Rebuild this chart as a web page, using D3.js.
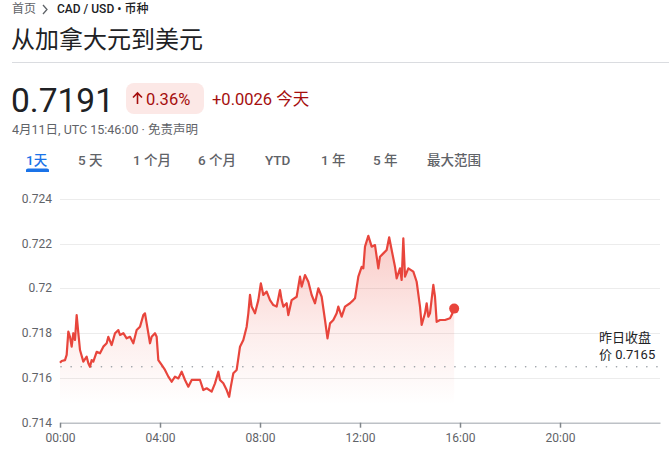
<!DOCTYPE html>
<html><head><meta charset="utf-8">
<script src="https://cdn.jsdelivr.net/npm/d3@7"></script>
<style>
html,body{margin:0;padding:0;background:#fff;}
body{width:669px;height:457px;overflow:hidden;font-family:Roboto,"Noto Sans CJK SC",sans-serif;}
</style></head><body>
<svg id="c" width="669" height="457"></svg>
<script>
// ---- data ----
const title = "从加拿大元到美元";
const pair = "CAD / USD • 币种";
const lastPrice = "0.7191";
const pctChange = "0.36%";
const absChange = "+0.0026 今天";
const stamp = "4月11日, UTC 15:46:00 · 免责声明";
const tabs = ["1天","5 天","1 个月","6 个月","YTD","1 年","5 年","最大范围"];
const prevClose = 0.7165;
const yTicks = [0.714,0.716,0.718,0.72,0.722,0.724];
const xTickHours = [0,4,8,12,16,20];
// minutes after 00:00 UTC
const minutes = [0,4,12,16,20,24,28,32,36,40,44,48,56,64,68,72,76,80,88,96,104,112,116,124,132,140,144,152,160,168,176,184,192,200,204,208,216,220,228,232,236,244,252,260,268,276,284,292,300,308,316,328,336,344,352,364,372,380,384,392,400,406,410,416,424,432,440,448,452,456,460,468,476,482,488,496,504,512,520,528,532,536,544,548,556,568,576,580,588,596,604,612,620,628,636,642,648,656,664,668,676,684,696,704,708,716,724,728,732,740,748,756,764,768,776,784,790,796,804,808,816,820,824,828,836,848,856,864,868,876,880,884,888,896,900,904,912,924,936,940,946];
const rates = [0.71668,0.71676,0.71680,0.71703,0.71807,0.71784,0.71740,0.71800,0.71770,0.71881,0.71800,0.71725,0.71673,0.71695,0.71666,0.71650,0.71680,0.71673,0.71717,0.71710,0.71740,0.71755,0.71784,0.71747,0.71800,0.71814,0.71792,0.71800,0.71777,0.71784,0.71755,0.71814,0.71829,0.71881,0.71889,0.71844,0.71755,0.71784,0.71800,0.71784,0.71680,0.71658,0.71636,0.71606,0.71583,0.71606,0.71598,0.71628,0.71591,0.71561,0.71591,0.71591,0.71591,0.71546,0.71554,0.71539,0.71576,0.71628,0.71591,0.71576,0.71546,0.71516,0.71561,0.71621,0.71636,0.71740,0.71770,0.71829,0.71889,0.71971,0.71919,0.71889,0.71948,0.72023,0.71971,0.71986,0.71948,0.71926,0.71919,0.71993,0.71948,0.71919,0.71934,0.71881,0.71948,0.71963,0.72053,0.72008,0.72060,0.72030,0.71971,0.71934,0.72001,0.71963,0.71859,0.71777,0.71844,0.71859,0.71889,0.71919,0.71874,0.71919,0.71934,0.71948,0.71956,0.72053,0.72097,0.72090,0.72187,0.72235,0.72187,0.72194,0.72090,0.72142,0.72157,0.72172,0.72229,0.72172,0.72097,0.72045,0.72090,0.72038,0.72224,0.72053,0.72090,0.72075,0.72030,0.71919,0.71837,0.71889,0.71934,0.71874,0.71889,0.72016,0.71963,0.71851,0.71859,0.71859,0.71867,0.71881,0.7191];

// ---- drawing ----
const svg = d3.select("#c");
const FONT = 'Roboto,"Noto Sans CJK SC",sans-serif';
const day0 = new Date(Date.UTC(2024,3,11,0,0));
const toDate = m => new Date(day0.getTime() + m*60000);
const data = minutes.map((m,i)=>({t:toDate(m), v:rates[i]}));

const x = d3.scaleUtc().domain([day0, toDate(1440)]).range([60,660]);
const y = d3.scaleLinear().domain([0.714,0.724]).range([422.7,199]);

// header
const hdr = svg.append("g").style("font-family",FONT);
hdr.append("text").attr("x",12).attr("y",13).attr("font-size",12).attr("fill","#5f6368").text("首页");
hdr.append("path").attr("d","M43,5 L47,9.5 L43,14").attr("fill","none").attr("stroke","#5f6368").attr("stroke-width",1.3);
hdr.append("text").attr("x",57).attr("y",13).attr("font-size",12).attr("font-weight",500).attr("fill","#202124").text(pair);
hdr.append("text").attr("x",11).attr("y",48).attr("font-size",24).attr("fill","#202124").text(title);
hdr.append("line").attr("x1",12).attr("x2",669).attr("y1",62.5).attr("y2",62.5).attr("stroke","#dadce0");
hdr.append("text").attr("x",11).attr("y",112).attr("font-size",33.5).attr("fill","#202124").text(lastPrice);
hdr.append("rect").attr("x",126).attr("y",83).attr("width",78).attr("height",31).attr("rx",8).attr("fill","#fce8e6");
hdr.append("path").attr("d","M137.5,104 V93 M133,97.5 L137.5,93 L142,97.5").attr("fill","none").attr("stroke","#a50e0e").attr("stroke-width",1.6);
hdr.append("text").attr("x",146).attr("y",105).attr("font-size",16.5).attr("fill","#a50e0e").text(pctChange);
hdr.append("text").attr("x",212).attr("y",105).attr("font-size",16.5).attr("fill","#a50e0e").text(absChange);
hdr.append("text").attr("x",12).attr("y",134).attr("font-size",12.5).attr("fill","#5f6368").text(stamp);

// tabs
const tabX = [26,78,133,198,265,321,373,427];
tabs.forEach((t,i)=>{
  hdr.append("text").attr("x",tabX[i]).attr("y",165).attr("font-size",13.5).attr("font-weight",500)
    .attr("fill", i===0 ? "#1a73e8" : "#5f6368").text(t);
});
hdr.append("path").attr("d","M26,172 V170 Q26,168.5 28,168.5 H47 Q49,168.5 49,170 V172 Z").attr("fill","#1a73e8");

// grid
const g = svg.append("g").style("font-family",FONT);
g.selectAll("line.grid").data(yTicks.slice(1)).enter().append("line")
  .attr("x1",60).attr("x2",660).attr("y1",d=>Math.round(y(d))+0.5).attr("y2",d=>Math.round(y(d))+0.5)
  .attr("stroke","#ececec");
g.selectAll("text.yl").data(yTicks).enter().append("text")
  .attr("x",52).attr("y",d=>y(d)+4).attr("text-anchor","end").attr("font-size",12).attr("fill","#5f6368")
  .text(d=>String(+d.toFixed(3)));

// gradient
const defs = svg.append("defs");
const grad = defs.append("linearGradient").attr("id","fillg").attr("gradientUnits","userSpaceOnUse")
  .attr("x1",0).attr("x2",0).attr("y1",y(0.7224)).attr("y2",y(0.7148));
grad.append("stop").attr("offset",0).attr("stop-color","#ea4335").attr("stop-opacity",0.28);
grad.append("stop").attr("offset",0.55).attr("stop-color","#ea4335").attr("stop-opacity",0.10);
grad.append("stop").attr("offset",1).attr("stop-color","#ea4335").attr("stop-opacity",0.0);

const area = d3.area().x(d=>x(d.t)).y0(y(0.714)).y1(d=>y(d.v));
g.append("path").datum(data).attr("d",area).attr("fill","url(#fillg)");

// prev close dotted
g.append("line").attr("x1",61).attr("x2",660).attr("y1",y(prevClose)).attr("y2",y(prevClose))
  .attr("stroke","#9aa0a6").attr("stroke-width",1.6).attr("stroke-linecap","round").attr("stroke-dasharray","0.1,10");

// line
const line = d3.line().x(d=>x(d.t)).y(d=>y(d.v));
g.append("path").datum(data).attr("d",line).attr("fill","none").attr("stroke","#e8453c")
  .attr("stroke-width",2.2).attr("stroke-linejoin","round");
const last = data[data.length-1];
g.append("circle").attr("cx",x(last.t)).attr("cy",y(last.v)).attr("r",5).attr("fill","#e8453c");

// x axis
const xAxis = d3.axisBottom(x).tickValues(xTickHours.map(h=>toDate(h*60)))
  .tickFormat(d3.utcFormat("%H:%M")).tickSize(5).tickSizeOuter(0);
const ax = g.append("g").attr("transform",`translate(0,${y(0.714)})`).call(xAxis);
ax.select(".domain").attr("stroke","#bdc1c6").attr("stroke-width",1.5);
ax.selectAll(".tick line").attr("stroke","#80868b").attr("stroke-width",1.5);
ax.selectAll(".tick text").attr("font-size",12).attr("fill","#5f6368").attr("font-family",FONT).attr("dy","0.95em");

// prev close label
g.append("text").attr("x",599).attr("y",342).attr("font-size",13).attr("fill","#202124").text("昨日收盘");
g.append("text").attr("x",599).attr("y",359).attr("font-size",13).attr("fill","#202124").text("价 0.7165");
</script>
</body></html>
